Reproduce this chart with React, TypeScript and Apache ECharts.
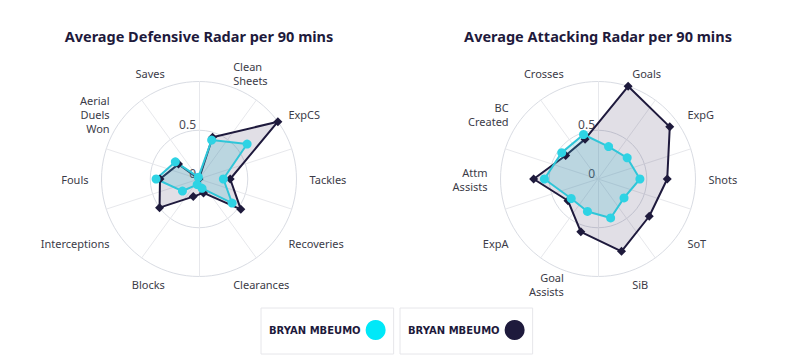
import React, { useEffect, useRef } from "react";
import * as echarts from "echarts";

// Axes listed clockwise, starting just right of the top
const defCategories = ["Clean\nSheets", "ExpCS", "Tackles", "Recoveries", "Clearances", "Blocks", "Interceptions", "Fouls", "Aerial\nDuels\nWon", "Saves"];
const defDark = [0.45, 1.0, 0.32, 0.53, 0.15, 0.19, 0.5, 0.4, 0.26, 0.0];
const defCyan = [0.42, 0.61, 0.25, 0.42, 0.1, 0.06, 0.21, 0.44, 0.3, 0.02];

const attCategories = ["Goals", "ExpG", "Shots", "SoT", "SiB", "Goal\nAssists", "ExpA", "Attm\nAssists", "BC\nCreated", "Crosses"];
const attDark = [1.0, 0.91, 0.71, 0.65, 0.78, 0.57, 0.38, 0.66, 0.41, 0.43];
const attCyan = [0.35, 0.37, 0.43, 0.33, 0.42, 0.35, 0.34, 0.55, 0.46, 0.48];

const tickMin = 0;
const tickMax = 1;
const tickSplit = 2;

const titles = ["Average Defensive Radar per 90 mins", "Average Attacking Radar per 90 mins"];
const playerCyan = "BRYAN MBEUMO";
const playerDark = "BRYAN MBEUMO ";

const NAVY = "#1e1a3c";
const CYAN_LINE = "#2fc8da";
const CYAN_DOT = "#2ed3e4";
const CYAN_LEGEND = "#00e8f8";

// ECharts lays indicators counter-clockwise; reorder the clockwise lists
function ccw<T>(arr: T[]): T[] {
  return [arr[0], ...arr.slice(1).reverse()];
}

export default function App() {
  const ref = useRef<HTMLDivElement>(null);
  useEffect(() => {
    document.body.style.margin = "0";
    if (!ref.current) return;
    const chart = echarts.init(ref.current, undefined, { renderer: "svg" });
    const centers = [199, 598];
    const cy = 179;
    const R = 97.5;

    const dataRadar = (cx: number, cats: string[]) => ({
      center: [cx, cy],
      radius: R,
      startAngle: 72,
      shape: "circle",
      splitNumber: tickSplit,
      indicator: ccw(cats).map((n) => ({ name: n, min: tickMin, max: tickMax })),
      nameGap: 13,
      axisName: { color: "#3b3b47", fontFamily: "Noto Sans", fontSize: 11, lineHeight: 14 },
      axisLine: { show: false },
      axisTick: { show: false },
      axisLabel: { show: false },
      splitArea: { show: false },
      splitLine: { show: true, lineStyle: { color: "#d9dce3", width: 1 } },
    });
    const spokeRadar = (cx: number) => ({
      center: [cx, cy],
      radius: R,
      startAngle: 90,
      shape: "circle",
      splitNumber: tickSplit,
      indicator: defCategories.map((_, i) => ({
        name: "",
        min: tickMin,
        max: tickMax,
        ...(i === 0
          ? {
              axisLabel: {
                show: true,
                color: "#4a4a55",
                fontFamily: "Noto Sans",
                fontSize: 12,
                margin: 3,
                verticalAlign: "bottom",
                formatter: (v: number) => (v >= tickMax ? "" : String(v)),
              },
            }
          : {}),
      })),
      axisName: { show: false },
      axisLine: { show: true, lineStyle: { color: "#e7e8ec", width: 1 } },
      axisTick: { show: false },
      axisLabel: { show: false },
      splitArea: { show: false },
      splitLine: { show: false },
    });

    const darkSeries = (ri: number, vals: number[]) => ({
      type: "radar",
      name: playerDark,
      radarIndex: ri,
      symbol: "diamond",
      symbolSize: 9,
      itemStyle: { color: NAVY },
      lineStyle: { color: NAVY, width: 2 },
      areaStyle: { color: "rgba(40,30,80,0.2)" },
      data: [{ value: ccw(vals), name: playerDark }],
    });
    const cyanSeries = (ri: number, vals: number[]) => ({
      type: "radar",
      name: playerCyan,
      radarIndex: ri,
      symbol: "circle",
      symbolSize: 9,
      itemStyle: { color: CYAN_DOT },
      lineStyle: { color: CYAN_LINE, width: 2 },
      areaStyle: { color: "rgba(60,182,205,0.32)" },
      data: [{ value: ccw(vals), name: playerCyan }],
    });

    const legendBase = {
      orient: "horizontal",
      icon: "circle",
      align: "right",
      itemWidth: 20,
      itemHeight: 20,
      top: 308,
      padding: [12, 8, 14, 8],
      borderColor: "#e6e6ea",
      borderWidth: 1,
      selectedMode: false,
      formatter: (n: string) => n.trim(),
      textStyle: { fontFamily: "DejaVu Sans", fontWeight: "bold", fontSize: 10, color: NAVY },
    };

    chart.setOption({
      animation: false,
      backgroundColor: "#ffffff",
      graphic: titles.map((t, i) => ({
        type: "text",
        x: centers[i],
        y: 36,
        style: {
          text: t,
          align: "center",
          verticalAlign: "middle",
          fontFamily: "Noto Sans",
          fontWeight: "bold",
          fontSize: 14.5,
          fill: NAVY,
        },
      })),
      radar: [
        spokeRadar(centers[0]),
        dataRadar(centers[0], defCategories),
        spokeRadar(centers[1]),
        dataRadar(centers[1], attCategories),
      ],
      legend: [
        { ...legendBase, left: 261, data: [{ name: playerCyan, itemStyle: { color: CYAN_LEGEND } }] },
        { ...legendBase, left: 400, data: [{ name: playerDark, itemStyle: { color: NAVY } }] },
      ],
      series: [
        darkSeries(1, defDark),
        cyanSeries(1, defCyan),
        darkSeries(3, attDark),
        cyanSeries(3, attCyan),
      ],
    });
    return () => chart.dispose();
  }, []);
  return <div ref={ref} style={{ width: 800, height: 362 }} />;
}
